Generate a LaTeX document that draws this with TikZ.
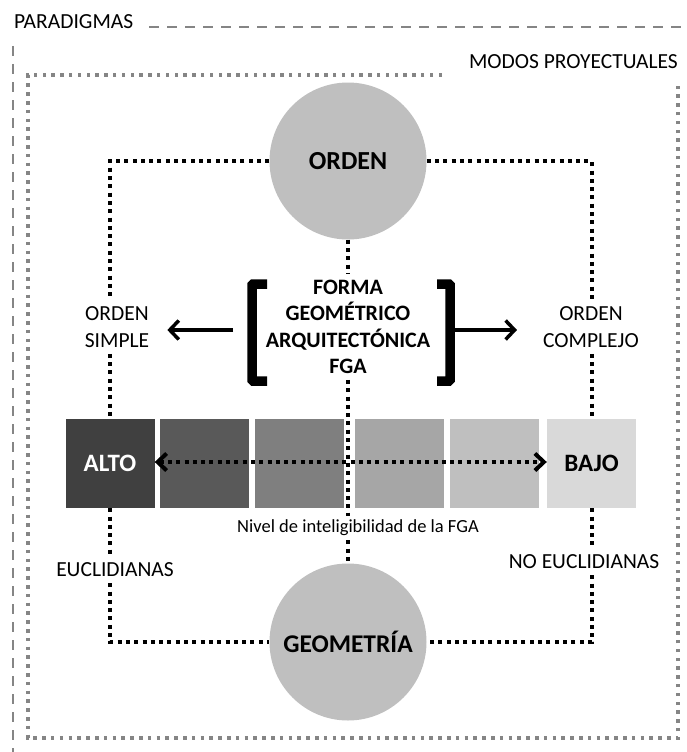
\documentclass[tikz,border=0pt]{standalone}
\usepackage{fontspec}
\setmainfont{Carlito}
\usetikzlibrary{arrows.meta}

\definecolor{circgray}{HTML}{BFBFBF}
\definecolor{framegray}{HTML}{858585}
\definecolor{lvone}{HTML}{404040}
\definecolor{lvtwo}{HTML}{595959}
\definecolor{lvthree}{HTML}{7F7F7F}
\definecolor{lvfour}{HTML}{A6A6A6}
\definecolor{lvfive}{HTML}{BFBFBF}
\definecolor{lvsix}{HTML}{D9D9D9}

\tikzset{
	link/.style={line width=4pt, dash pattern=on 4pt off 4.3pt},
	circ/.style={circle, fill=circgray, minimum size=157pt, inner sep=0pt},
	level/.style={minimum width=89pt, minimum height=89pt, inner sep=0pt},
	lbl/.style={align=center, inner sep=6pt, font=\fontsize{21.5}{27}\selectfont},
	arr/.style={line width=3.5pt, -{Straight Barb[length=9pt,width=19pt]}},
}

\begin{document}
\begin{tikzpicture}[x=1pt,y=-1pt]
	\useasboundingbox (0,0) rectangle (687,752);
	% frames
	\node[lbl, anchor=west, inner sep=0pt] at (14,22) (paradigmas) {PARADIGMAS};
	\node[lbl, anchor=east, inner sep=0pt] at (678,62) (modos) {MODOS PROYECTUALES};
	\draw[framegray, line width=2.3pt, dash pattern=on 10pt off 8pt] ([xshift=16pt]paradigmas.east |- 0,27) -- (690,27);
	\draw[framegray, line width=2.3pt, dash pattern=on 10pt off 8pt] (13,46) -- (13,755);
	\draw[framegray, line width=3.5pt, dash pattern=on 3.5pt off 5.3pt] (442,75) -- (28,75) -- (28,738) -- (678,738) -- (678,83);

	% main nodes
	\node[circ, font=\bfseries\fontsize{26}{26}\selectfont] at (348,161) (orden) {ORDEN};
	\node[circ, font=\bfseries\fontsize{25.5}{25.5}\selectfont] at (348,642) (geometria) {GEOMETRÍA};
	\node[lbl, font=\bfseries\fontsize{22}{26.3}\selectfont] at (348,327) (fga) {FORMA\\GEOMÉTRICO\\ARQUITECTÓNICA\\FGA};
	\node[lbl] at (117,327) (simple) {ORDEN\\SIMPLE};
	\node[lbl] at (591,327) (complejo) {ORDEN\\COMPLEJO};
	\node[lbl] at (115,570) (eucl) {EUCLIDIANAS};
	\node[lbl] at (584,562) (noeucl) {NO EUCLIDIANAS};
	\node[lbl, font=\fontsize{18.5}{20}\selectfont, inner sep=4pt] at (358,528) (nivel) {Nivel de inteligibilidad de la FGA};

	% level boxes
	\node[level, fill=lvone, text=white, font=\bfseries\fontsize{25}{25}\selectfont] at (110,463.5) (b1) {ALTO};
	\node[level, fill=lvtwo] at (204.5,463.5) (b2) {};
	\node[level, fill=lvthree] at (299.5,463.5) (b3) {};
	\node[level, fill=lvfour] at (399,463.5) (b4) {};
	\node[level, fill=lvfive] at (494.5,463.5) (b5) {};
	\node[level, fill=lvsix, font=\bfseries\fontsize{25}{25}\selectfont] at (591.5,463.5) (b6) {BAJO};

	% brackets
	\draw[line width=9.5pt, rounded corners=1pt] (267,284) -- (252,284) -- (252,381) -- (267,381);
	\draw[line width=9.5pt, rounded corners=1pt] (437,284) -- (450,284) -- (450,381) -- (437,381);
	\coordinate (lb) at (233,330);
	\coordinate (rb) at (454,330);
	\draw[arr, shorten >=12pt] (lb) -- (simple.east |- lb);
	\draw[arr, shorten >=20pt] (rb) -- (complejo.west |- rb);

	% dotted links
	\draw[link] (orden) -- (b1 |- orden) -- (b1 |- simple.north);
	\draw[link] (orden) -- (b6 |- orden) -- (b6 |- complejo.north);
	\draw[link] (b1 |- simple.south) -- (b1.north);
	\draw[link] (b6 |- complejo.south) -- (b6.north);
	\draw[link] (b1.south) -- (b1 |- eucl.north);
	\draw[link] (b6.south) -- (b6 |- noeucl.north);
	\draw[link] (b1 |- eucl.south) -- (b1 |- geometria) -- (geometria);
	\draw[link] (b6 |- noeucl.south) -- (b6 |- geometria) -- (geometria);
	\draw[link] (orden) -- (fga.north);
	\draw[link] (fga.south) -- (fga.south |- nivel.north);
	\draw[link] (nivel.south -| geometria) -- (geometria);
	\draw[link, {Straight Barb[length=9pt,width=17pt]}-{Straight Barb[length=9pt,width=17pt]}] ([yshift=1.5pt]b1.east) -- ([yshift=1.5pt]b6.west);
\end{tikzpicture}
\end{document}
